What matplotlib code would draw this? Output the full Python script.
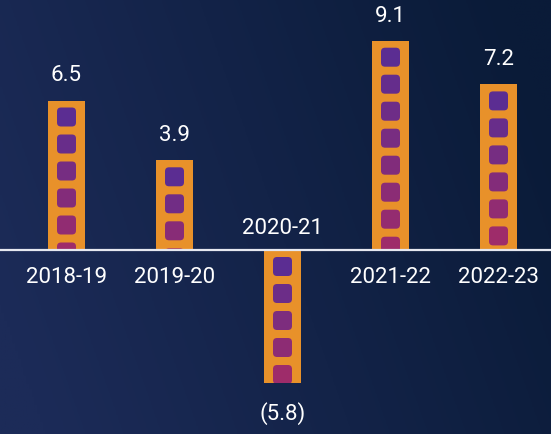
import numpy as np
import matplotlib
matplotlib.use("Agg")
import matplotlib.pyplot as plt
from matplotlib.patches import FancyBboxPatch
from matplotlib.colors import to_rgb

categories = ["2018-19", "2019-20", "2020-21", "2021-22", "2022-23"]
values = [6.5, 3.9, -5.8, 9.1, 7.2]
value_labels = ["6.5", "3.9", "(5.8)", "9.1", "7.2"]

plt.rcParams['font.family'] = ['Roboto', 'DejaVu Sans']

W, H = 551, 435
fig = plt.figure(figsize=(W / 100, H / 100), dpi=100)
ax = fig.add_axes([0, 0, 1, 1])

# pixel scales
px_x = 108.0      # px per category
px_y = 23.0       # px per unit
x0_px = 66.5
base_px = 251.0
xmin = -x0_px / px_x
xmax = (W - x0_px) / px_x
ymax = base_px / px_y
ymin = -(H - base_px) / px_y
ax.set_xlim(xmin, xmax)
ax.set_ylim(ymin, ymax)
ax.axis('off')

# background gradient
nx, ny = 200, 160
gx = np.linspace(0, 1, nx)
gy = np.linspace(0, 1, ny)
GX, GY = np.meshgrid(gx, gy)
c_light = np.array(to_rgb("#1c2b58"))
c_dark = np.array(to_rgb("#0a1b38"))
t = np.clip(GX * 0.9 - (GY - 0.5) * 0.25 + 0.05, 0, 1)
img = c_light[None, None, :] * (1 - t[..., None]) + c_dark[None, None, :] * t[..., None]
ax.imshow(img, extent=[xmin, xmax, ymin, ymax], origin='upper', aspect='auto', zorder=0)

bar_w = 37 / px_x
sq_w = 19 / px_x
sq_h = 19 / px_y
pitch = 27 / px_y
gap = 7 / px_y
r = 4 / px_x
aspect = (1 / px_y) / (1 / px_x)

orange = "#e8912a"
c_top = np.array(to_rgb("#5b2d92"))
c_bot = np.array(to_rgb("#9e2c6a"))

bars = ax.bar(range(len(values)), values, width=bar_w, color=orange, zorder=2)

for i, (v, b) in enumerate(zip(values, bars)):
    top = max(v, 0)
    bottom = min(v, 0)
    hgt = top - bottom
    y = top - gap
    k = 0
    n = int(np.ceil((hgt - gap) / pitch))
    while y > bottom:
        frac = k / max(n - 1, 1)
        col = c_top * (1 - frac) + c_bot * frac
        sq = FancyBboxPatch((i - sq_w / 2, y - sq_h), sq_w, sq_h,
                            boxstyle=f"round,pad=0,rounding_size={r}",
                            mutation_aspect=aspect,
                            facecolor=col, edgecolor='none', zorder=3)
        ax.add_patch(sq)
        sq.set_clip_path(b)
        y -= pitch
        k += 1

ax.axhline(0, color="#e6e8f0", lw=1.6, zorder=4)

fs = 16
for i, (v, lab, cat) in enumerate(zip(values, value_labels, categories)):
    if v >= 0:
        ax.annotate(lab, (i, v), xytext=(0, 18.5), textcoords='offset points',
                    ha='center', va='center', color='white', fontsize=fs)
        ax.annotate(cat, (i, 0), xytext=(0, -19), textcoords='offset points',
                    ha='center', va='center', color='white', fontsize=fs)
    else:
        ax.annotate(lab, (i, v), xytext=(0, -21), textcoords='offset points',
                    ha='center', va='center', color='white', fontsize=fs)
        ax.annotate(cat, (i, 0), xytext=(0, 16), textcoords='offset points',
                    ha='center', va='center', color='white', fontsize=fs)

fig.savefig("out.png", dpi=100)
